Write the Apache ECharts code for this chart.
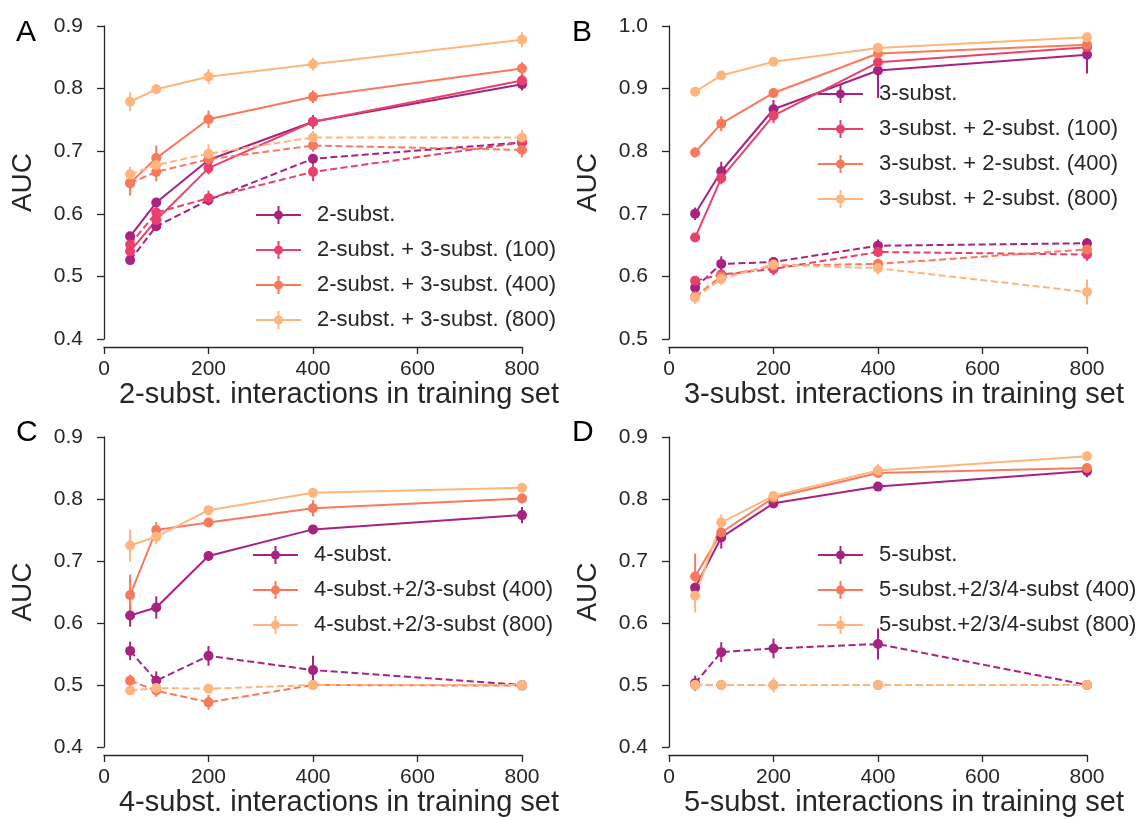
<!DOCTYPE html>
<html>
<head>
<meta charset="utf-8">
<script src="https://cdn.jsdelivr.net/npm/echarts@6/dist/echarts.min.js"></script>
<style>
  html, body { margin: 0; padding: 0; background: #fff; }
  #chart { width: 1138px; height: 819px; }
</style>
</head>
<body>
<div id="chart"></div>
<script>
// training set sizes (shared by all panels)
const xVals = [50, 100, 200, 400, 800];

const purple = '#a8237f';
const pink = '#e8416b';
const orange = '#f9795d';
const light = '#feb67e';

// Panel A
const A_names = ['2-subst.', '2-subst. + 3-subst. (100)', '2-subst. + 3-subst. (400)', '2-subst. + 3-subst. (800)'];
const A_solid = [
  [0.564, 0.618, 0.686, 0.747, 0.807],
  [0.540, 0.590, 0.673, 0.747, 0.813],
  [0.649, 0.689, 0.751, 0.787, 0.832],
  [0.779, 0.799, 0.819, 0.839, 0.878]
];
const A_solidErr = [
  [0.005, 0.005, 0.010, 0.011, 0.010],
  [0.005, 0.010, 0.010, 0.010, 0.010],
  [0.020, 0.020, 0.014, 0.010, 0.010],
  [0.015, 0.008, 0.012, 0.010, 0.012]
];
const A_dashed = [
  [0.526, 0.580, 0.622, 0.688, 0.714],
  [0.551, 0.602, 0.625, 0.667, 0.714],
  [0.649, 0.667, 0.687, 0.709, 0.702],
  [0.663, 0.678, 0.696, 0.722, 0.722]
];
const A_dashedErr = [
  [0.005, 0.005, 0.008, 0.005, 0.005],
  [0.005, 0.010, 0.012, 0.015, 0.010],
  [0.010, 0.015, 0.010, 0.010, 0.012],
  [0.012, 0.008, 0.015, 0.010, 0.012]
];

// Panel B
const B_names = ['3-subst.', '3-subst. + 2-subst. (100)', '3-subst. + 2-subst. (400)', '3-subst. + 2-subst. (800)'];
const B_solid = [
  [0.700, 0.768, 0.867, 0.929, 0.954],
  [0.662, 0.757, 0.857, 0.942, 0.966],
  [0.798, 0.844, 0.893, 0.956, 0.970],
  [0.895, 0.921, 0.943, 0.965, 0.982]
];
const B_solidErr = [
  [0.010, 0.015, 0.015, 0.044, 0.030],
  [0.005, 0.010, 0.012, 0.010, 0.008],
  [0.008, 0.012, 0.008, 0.010, 0.008],
  [0.004, 0.004, 0.004, 0.008, 0.004]
];
const B_dashed = [
  [0.582, 0.620, 0.623, 0.649, 0.653],
  [0.593, 0.603, 0.612, 0.639, 0.635],
  [0.568, 0.600, 0.617, 0.620, 0.643],
  [0.566, 0.596, 0.619, 0.613, 0.575]
];
const B_dashedErr = [
  [0.005, 0.012, 0.008, 0.010, 0.008],
  [0.005, 0.008, 0.010, 0.008, 0.010],
  [0.005, 0.008, 0.005, 0.008, 0.008],
  [0.010, 0.010, 0.008, 0.010, 0.020]
];

// Panel C
const C_names = ['4-subst.', '4-subst.+2/3-subst (400)', '4-subst.+2/3-subst (800)'];
const C_solid = [
  [0.612, 0.625, 0.708, 0.751, 0.774],
  [0.645, 0.750, 0.762, 0.785, 0.801],
  [0.725, 0.739, 0.782, 0.810, 0.818]
];
const C_solidErr = [
  [0.018, 0.018, 0.008, 0.005, 0.013],
  [0.033, 0.013, 0.005, 0.013, 0.008],
  [0.026, 0.012, 0.005, 0.006, 0.005]
];
const C_dashed = [
  [0.555, 0.507, 0.547, 0.524, 0.500],
  [0.507, 0.491, 0.472, 0.500, 0.499],
  [0.491, 0.495, 0.494, 0.500, 0.500]
];
const C_dashedErr = [
  [0.015, 0.015, 0.016, 0.023, 0.005],
  [0.010, 0.010, 0.012, 0.004, 0.004],
  [0.004, 0.004, 0.004, 0.004, 0.004]
];

// Panel D
const D_names = ['5-subst.', '5-subst.+2/3/4-subst (400)', '5-subst.+2/3/4-subst (800)'];
const D_solid = [
  [0.657, 0.738, 0.793, 0.820, 0.845],
  [0.675, 0.746, 0.802, 0.842, 0.850],
  [0.644, 0.762, 0.805, 0.846, 0.869]
];
const D_solidErr = [
  [0.010, 0.018, 0.008, 0.006, 0.010],
  [0.037, 0.012, 0.006, 0.008, 0.006],
  [0.027, 0.013, 0.006, 0.010, 0.005]
];
const D_dashed = [
  [0.503, 0.553, 0.559, 0.566, 0.500],
  [0.500, 0.500, 0.500, 0.500, 0.500],
  [0.500, 0.500, 0.500, 0.500, 0.500]
];
const D_dashedErr = [
  [0.012, 0.016, 0.016, 0.025, 0.004],
  [0.004, 0.004, 0.006, 0.004, 0.004],
  [0.006, 0.008, 0.012, 0.004, 0.004]
];

const panelTitles = ['A', 'B', 'C', 'D'];
const xNames = [
  '2-subst. interactions in training set',
  '3-subst. interactions in training set',
  '4-subst. interactions in training set',
  '5-subst. interactions in training set'
];
const yRanges = [[0.4, 0.9], [0.5, 1.0], [0.4, 0.9], [0.4, 0.9]];

const font = '"Liberation Sans", Arial, sans-serif';
const ink = '#262626';
// legend handle: line + vertical error bar + dot
const legendIcon = 'path://M0,8L45,8L45,10L0,10Z M21.5,0L23.5,0L23.5,18L21.5,18Z M18,9A4.5,4.5 0 1,1 27,9A4.5,4.5 0 1,1 18,9Z';

const grids = [
  { left: 104, top: 26, width: 418, height: 313 },
  { left: 669, top: 26, width: 418, height: 313 },
  { left: 104, top: 437, width: 418, height: 310 },
  { left: 669, top: 437, width: 418, height: 310 }
];

function errSeries(idx, means, errs, color) {
  return {
    type: 'custom',
    xAxisIndex: idx,
    yAxisIndex: idx,
    silent: true,
    z: 2,
    data: xVals.map((x, i) => [x, means[i] - errs[i], means[i] + errs[i]]),
    encode: { x: 0, y: [1, 2] },
    renderItem: function (params, api) {
      const p1 = api.coord([api.value(0), api.value(1)]);
      const p2 = api.coord([api.value(0), api.value(2)]);
      return {
        type: 'line',
        shape: { x1: p1[0], y1: p1[1], x2: p2[0], y2: p2[1] },
        style: { stroke: color, lineWidth: 2 }
      };
    }
  };
}

function lineSeries(idx, name, means, color, dashed) {
  return {
    type: 'line',
    name: name,
    xAxisIndex: idx,
    yAxisIndex: idx,
    z: 3,
    data: xVals.map((x, i) => [x, means[i]]),
    symbol: 'circle',
    symbolSize: 10,
    showSymbol: true,
    lineStyle: { width: 2, color: color, type: dashed ? [7, 3.5] : 'solid' },
    itemStyle: { color: color }
  };
}

function panel(idx, names, colors, solid, solidErr, dashed, dashedErr) {
  const out = [];
  names.forEach((n, k) => {
    out.push(errSeries(idx, dashed[k], dashedErr[k], colors[k]));
    out.push(lineSeries(idx, n + ' (dashed)', dashed[k], colors[k], true));
    out.push(errSeries(idx, solid[k], solidErr[k], colors[k]));
    out.push(lineSeries(idx, n, solid[k], colors[k], false));
  });
  return out;
}

const series = [].concat(
  panel(0, A_names, [purple, pink, orange, light], A_solid, A_solidErr, A_dashed, A_dashedErr),
  panel(1, B_names, [purple, pink, orange, light], B_solid, B_solidErr, B_dashed, B_dashedErr),
  panel(2, C_names, [purple, orange, light], C_solid, C_solidErr, C_dashed, C_dashedErr),
  panel(3, D_names, [purple, orange, light], D_solid, D_solidErr, D_dashed, D_dashedErr)
);

const axisLineStyle = { color: ink, width: 1.3 };

const option = {
  animation: false,
  backgroundColor: '#fff',
  textStyle: { fontFamily: font },
  title: panelTitles.map((t, i) => ({
    text: t,
    left: i % 2 === 0 ? 16 : 572,
    top: i < 2 ? 18 : 418,
    padding: 0,
    textStyle: { fontSize: 30, fontWeight: 'normal', color: '#000', fontFamily: font }
  })),
  grid: grids,
  xAxis: grids.map((g, i) => ({
    type: 'value',
    gridIndex: i,
    min: 0,
    max: 800,
    interval: 200,
    offset: 8,
    axisLine: { show: true, lineStyle: axisLineStyle },
    axisTick: { show: true, length: 7, lineStyle: axisLineStyle },
    axisLabel: { fontSize: 21, color: ink, margin: 12, fontFamily: font },
    splitLine: { show: false },
    name: xNames[i],
    nameLocation: 'middle',
    nameGap: 33,
    nameTextStyle: { fontSize: 29, color: ink, fontFamily: font, padding: [0, 0, 0, 52] }
  })),
  yAxis: grids.map((g, i) => ({
    type: 'value',
    gridIndex: i,
    min: yRanges[i][0],
    max: yRanges[i][1],
    interval: 0.1,
    offset: 7,
    axisLine: { show: true, lineStyle: axisLineStyle },
    axisTick: { show: true, length: 7, lineStyle: axisLineStyle },
    axisLabel: { fontSize: 21, color: ink, margin: 14, fontFamily: font, formatter: v => v.toFixed(1) },
    splitLine: { show: false },
    name: 'AUC',
    nameLocation: 'middle',
    nameGap: 60,
    nameTextStyle: { fontSize: 28, color: ink, fontFamily: font }
  })),
  legend: [
    { data: A_names, left: 256, top: 204 },
    { data: B_names, left: 818, top: 83 },
    { data: C_names, left: 253, top: 544 },
    { data: D_names, left: 818, top: 544 }
  ].map(l => Object.assign({
    orient: 'vertical',
    padding: 0,
    icon: legendIcon,
    itemWidth: 45,
    itemHeight: 18,
    itemGap: 13,
    selectedMode: false,
    textStyle: { fontSize: 22, color: ink, fontFamily: font, lineHeight: 18, padding: [0, 0, 0, 11] }
  }, l)),
  series: series
};

const chart = echarts.init(document.getElementById('chart'));
chart.setOption(option);
</script>
</body>
</html>
